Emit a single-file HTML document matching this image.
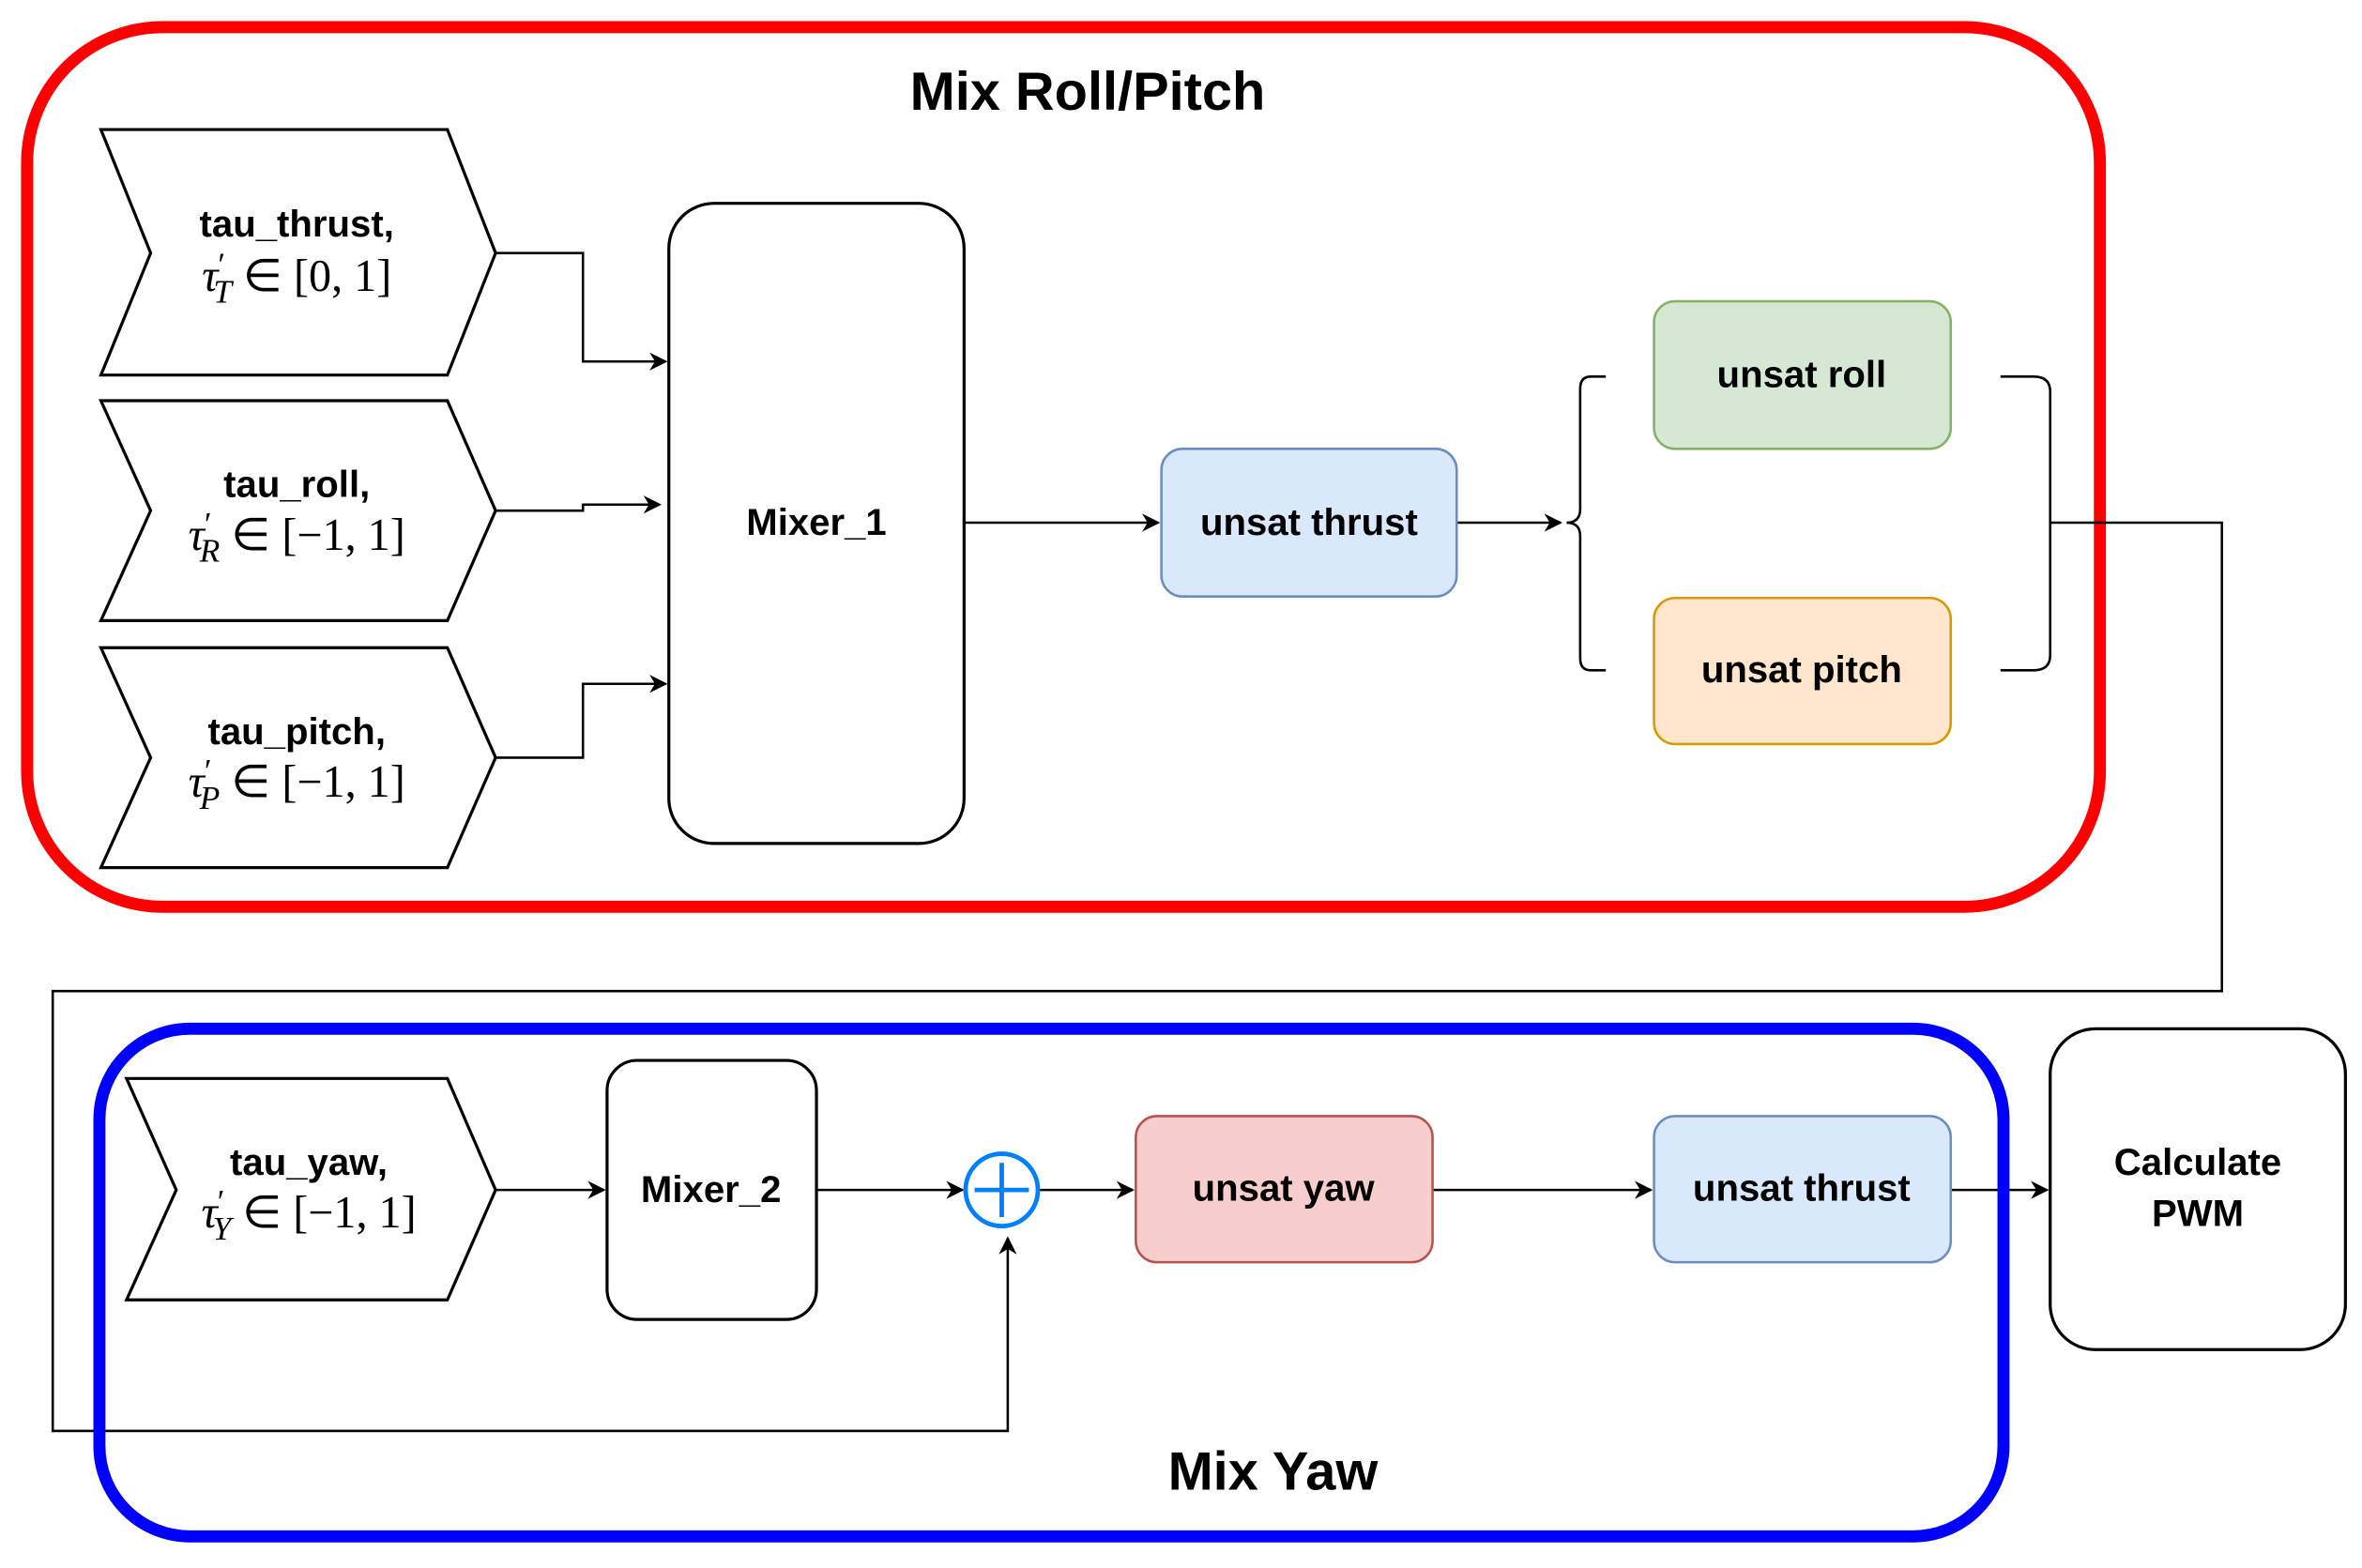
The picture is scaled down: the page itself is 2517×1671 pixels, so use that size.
<!DOCTYPE html>
<html><head><meta charset="utf-8"><style>
html,body{margin:0;padding:0;background:#fff}
svg{display:block}
.b{font-family:"Liberation Sans",sans-serif;font-weight:bold;text-anchor:middle;fill:#000}
.m{font-family:"Liberation Serif",serif;font-size:30px;text-anchor:middle;fill:#000}
</style></head><body>
<svg width="2517" height="1671" viewBox="0 0 1568 1041" preserveAspectRatio="none" xmlns="http://www.w3.org/2000/svg">
<defs><marker id="a" viewBox="0 0 10 10" refX="9" refY="5" markerWidth="7" markerHeight="7" orient="auto" markerUnits="userSpaceOnUse"><path d="M0,0 L10,5 L0,10 L3,5 z" fill="#000"/></marker>
<marker id="a2" viewBox="0 0 10 10" refX="9" refY="5" markerWidth="12" markerHeight="12" orient="auto" markerUnits="userSpaceOnUse"><path d="M0,0 L10,5 L0,10 L3,5 z" fill="#000"/></marker></defs>
<rect x="18" y="18" width="1376" height="584" rx="90" fill="none" stroke="#ff0000" stroke-width="8"/>
<text class="b" x="722" y="73" font-size="36">Mix Roll/Pitch</text>
<g fill="#fff" stroke="#000" stroke-width="2">
<polygon points="67,86 297,86 329,168 297,249 67,249 100,168"/>
<polygon points="67,266 297,266 329,339 297,412 67,412 100,339"/>
<polygon points="67,430 297,430 329,503 297,576 67,576 100,503"/>
<rect x="444" y="135" width="196" height="425" rx="30"/>
<polygon points="84,716 297,716 329,790 297,863 84,863 117,790"/>
<rect x="403" y="704" width="139" height="172" rx="20"/>
<rect x="1361" y="683" width="196" height="213" rx="30"/>
</g>
<text class="b" x="197" y="157" font-size="25">tau_thrust,</text>
<text class="m" x="197" y="193"><tspan font-style="italic">τ</tspan><tspan font-size="22" dy="-10">′</tspan><tspan font-style="italic" font-size="22" dx="-8" dy="18">T</tspan><tspan dy="-8"> ∈ [0, 1]</tspan></text>
<text class="b" x="197" y="330" font-size="25">tau_roll,</text>
<text class="m" x="197" y="365"><tspan font-style="italic">τ</tspan><tspan font-size="22" dy="-10">′</tspan><tspan font-style="italic" font-size="22" dx="-8" dy="18">R</tspan><tspan dy="-8"> ∈ [−1, 1]</tspan></text>
<text class="b" x="197" y="494" font-size="25">tau_pitch,</text>
<text class="m" x="197" y="529"><tspan font-style="italic">τ</tspan><tspan font-size="22" dy="-10">′</tspan><tspan font-style="italic" font-size="22" dx="-8" dy="18">P</tspan><tspan dy="-8"> ∈ [−1, 1]</tspan></text>
<text class="b" x="542" y="355" font-size="25">Mixer_1</text>
<g fill="none" stroke="#000" stroke-width="1.6">
<polyline points="329,168 387,168 387,240 442,240" marker-end="url(#a2)"/>
<polyline points="329,339 387,339 387,335 438,335" marker-end="url(#a2)"/>
<polyline points="329,503 387,503 387,454 442,454" marker-end="url(#a2)"/>
<line x1="640" y1="347" x2="769" y2="347" marker-end="url(#a2)"/>
<line x1="967" y1="347" x2="1036" y2="347" marker-end="url(#a2)"/>
<path d="M1066,250 L1056,250 Q1049,250 1049,258 L1049,338 Q1049,347 1040,347 Q1049,347 1049,356 L1049,437 Q1049,445 1056,445 L1066,445"/>
<path d="M1328,250 L1350,250 Q1361,250 1361,260 L1361,435 Q1361,445 1350,445 L1328,445"/>
<polyline points="1361,347 1475,347 1475,658 35,658 35,950 669,950 669,822" marker-end="url(#a2)"/>
<line x1="329" y1="790" x2="401" y2="790" marker-end="url(#a2)"/>
<line x1="542" y1="790" x2="639" y2="790" marker-end="url(#a2)"/>
<line x1="690" y1="790" x2="752" y2="790" marker-end="url(#a2)"/>
<line x1="951" y1="790" x2="1096" y2="790" marker-end="url(#a2)"/>
<line x1="1295" y1="790" x2="1359" y2="790" marker-end="url(#a2)"/>
</g>
<rect x="771" y="298" width="196" height="98" rx="14" fill="#dae8fc" stroke="#6c8ebf" stroke-width="1.6"/>
<text class="b" x="869" y="355" font-size="25">unsat thrust</text>
<rect x="1098" y="200" width="197" height="98" rx="14" fill="#d5e8d4" stroke="#82b366" stroke-width="1.6"/>
<text class="b" x="1196" y="257" font-size="25">unsat roll</text>
<rect x="1098" y="397" width="197" height="97" rx="14" fill="#ffe6cc" stroke="#d79b00" stroke-width="1.6"/>
<text class="b" x="1196" y="453" font-size="25">unsat pitch</text>
<rect x="66" y="683" width="1264" height="337" rx="60" fill="none" stroke="#0000ff" stroke-width="8"/>
<text class="b" x="845" y="989" font-size="36">Mix Yaw</text>
<text class="b" x="205" y="780" font-size="25">tau_yaw,</text>
<text class="m" x="205" y="815"><tspan font-style="italic">τ</tspan><tspan font-size="22" dy="-10">′</tspan><tspan font-style="italic" font-size="22" dx="-8" dy="18">Y</tspan><tspan dy="-8"> ∈ [−1, 1]</tspan></text>
<text class="b" x="472" y="798" font-size="25">Mixer_2</text>
<circle cx="665" cy="790" r="24" fill="#fff" stroke="#007fff" stroke-width="3"/>
<line x1="665" y1="772" x2="665" y2="808" stroke="#007fff" stroke-width="3"/>
<line x1="647" y1="790" x2="683" y2="790" stroke="#007fff" stroke-width="3"/>
<rect x="754" y="741" width="197" height="97" rx="14" fill="#f8cecc" stroke="#b85450" stroke-width="1.6"/>
<text class="b" x="852" y="797" font-size="25">unsat yaw</text>
<rect x="1098" y="741" width="197" height="97" rx="14" fill="#dae8fc" stroke="#6c8ebf" stroke-width="1.6"/>
<text class="b" x="1196" y="797" font-size="25">unsat thrust</text>
<text class="b" x="1459" y="780" font-size="25">Calculate</text>
<text class="b" x="1459" y="814" font-size="25">PWM</text>
</svg>
</body></html>
